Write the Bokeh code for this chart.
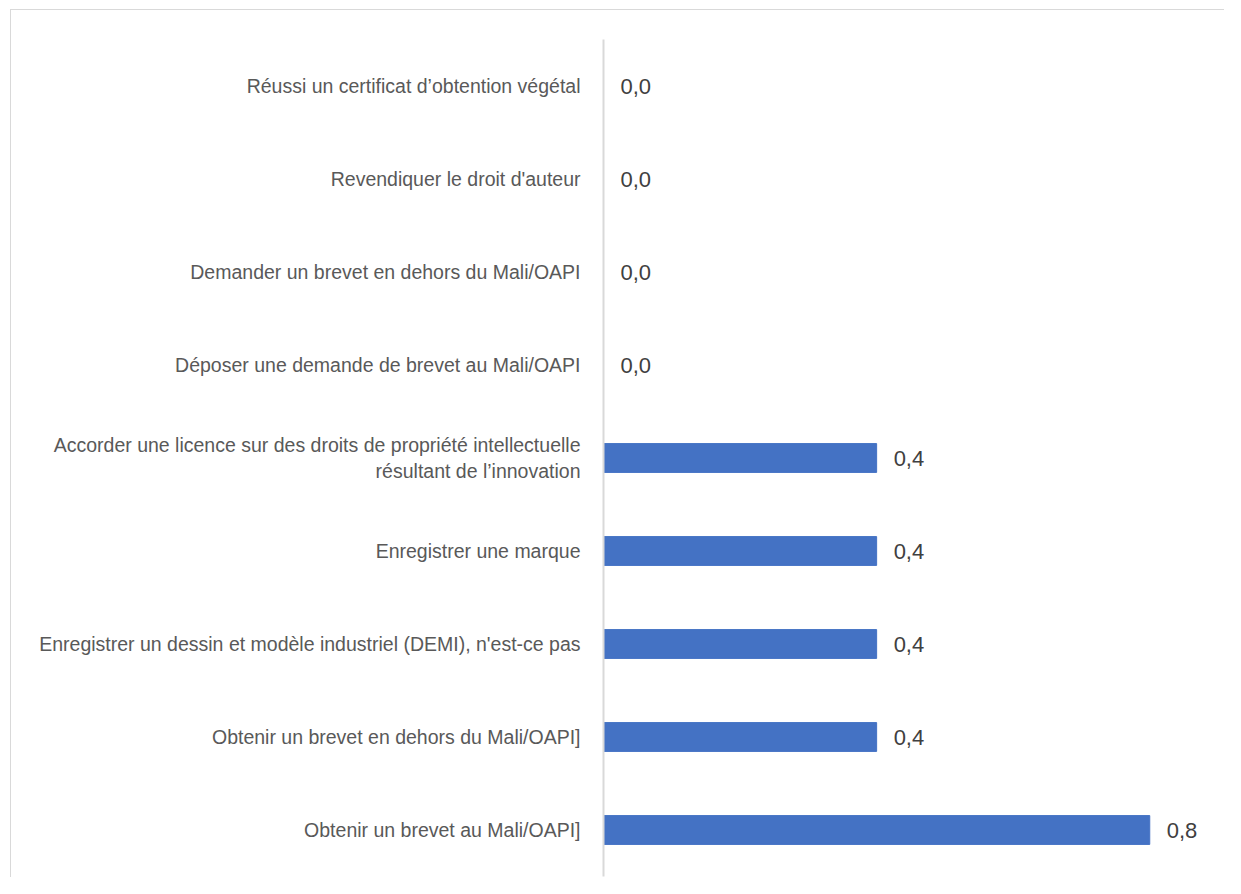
from bokeh.plotting import figure
from bokeh.models import ColumnDataSource, FactorRange
from bokeh.core.properties import value
from bokeh.embed import file_html
from bokeh.resources import INLINE

# Categories listed from top to bottom as in the reference
categories = [
    "Réussi un certificat d’obtention végétal",
    "Revendiquer le droit d'auteur",
    "Demander un brevet en dehors du Mali/OAPI",
    "Déposer une demande de brevet au Mali/OAPI",
    "Accorder une licence sur des droits de propriété intellectuelle\nrésultant de l’innovation",
    "Enregistrer une marque",
    "Enregistrer un dessin et modèle industriel (DEMI), n'est-ce pas",
    "Obtenir un brevet en dehors du Mali/OAPI]",
    "Obtenir un brevet au Mali/OAPI]",
]
values = [0.0, 0.0, 0.0, 0.0, 0.4, 0.4, 0.4, 0.4, 0.8]
value_labels = ["0,0", "0,0", "0,0", "0,0", "0,4", "0,4", "0,4", "0,4", "0,8"]

cats_bottom_up = categories[::-1]
source = ColumnDataSource(dict(cat=categories, val=values, lab=value_labels))

FONT = "Liberation Sans"

p = figure(
    width=1214, height=868,
    y_range=FactorRange(factors=cats_bottom_up, range_padding=0),
    x_range=(0, 0.908),
    output_backend="svg", toolbar_location=None,
    min_border_left=592, min_border_right=2,
    min_border_top=29, min_border_bottom=2,
)
p.margin = (9, 0, 0, 10)
p.styles = {"border-left": "1px solid #d9d9d9", "border-top": "1px solid #d9d9d9"}
p.outline_line_color = None
p.background_fill_color = "white"
p.border_fill_color = "white"
p.xgrid.visible = False
p.ygrid.visible = False
p.xaxis.visible = False

p.hbar(y="cat", right="val", left=0, height=0.31, source=source,
       fill_color="#4472C4", line_color="#4472C4")

p.text(x="val", y="cat", text="lab", source=source, x_offset=17,
       text_baseline="middle", text_align="left", text_color="#404040",
       text_font=value(FONT), text_font_size="22px")

ax = p.yaxis[0]
ax.axis_line_color = "#d9d9d9"
ax.axis_line_width = 2
ax.major_tick_line_color = None
ax.minor_tick_line_color = None
ax.major_tick_out = 0
ax.major_tick_in = 0
ax.major_label_standoff = 23
ax.major_label_text_font = FONT
ax.major_label_text_font_size = "19.5px"
ax.major_label_text_color = "#595959"

open("out.html", "w").write(file_html(p, INLINE))
